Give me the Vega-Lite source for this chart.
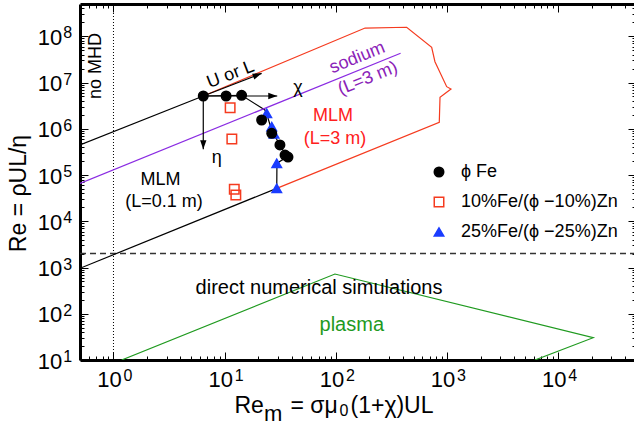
{
"$schema": "https://vega.github.io/schema/vega-lite/v6.json",
"width": 556, "height": 356,
"autosize": {"type": "none"},
"padding": {"left": 80, "top": 4, "right": 0, "bottom": 64},
"config": {
  "font": "Liberation Sans",
  "view": {"stroke": null},
  "axis": {"grid": false, "labelFont": "Liberation Sans", "titleFont": "Liberation Sans", "titleFontWeight": "normal", "titleColor": "black", "labelColor": "black", "tickColor": "black", "domainColor": "black", "domainWidth": 3, "tickWidth": 1, "labelFlush": false, "labelOverlap": false, "labelBound": false}
},
"resolve": {"axis": {"x": "independent", "y": "independent"}},
"layer": [
  {
    "data": {"values": [{"x": 1}]},
    "mark": {"type": "rule", "color": "black", "strokeWidth": 1, "strokeDash": [1, 2]},
    "encoding": {"x": {"field": "x", "type": "quantitative", "scale": {"type": "log", "domain": [0.5, 50000], "nice": false}, "axis": null}}
  },
  {
    "data": {"values": [{"y": 2000}]},
    "mark": {"type": "rule", "color": "#333333", "strokeWidth": 1.5, "strokeDash": [6, 4]},
    "encoding": {"y": {"field": "y", "type": "quantitative", "scale": {"type": "log", "domain": [10, 500000000], "nice": false}, "axis": null}}
  },
  {
    "data": {"values": [
      {"seg": "a", "i": 0, "x": 0.5, "y": 447000}, {"seg": "a", "i": 1, "x": 6.42, "y": 5120000},
      {"seg": "b", "i": 0, "x": 0.5, "y": 961}, {"seg": "b", "i": 1, "x": 29.4, "y": 51600},
      {"seg": "c", "i": 0, "x": 6.42, "y": 5120000}, {"seg": "c", "i": 1, "x": 14.2, "y": 5300000},
      {"seg": "c", "i": 2, "x": 23.0, "y": 2550000}, {"seg": "c", "i": 3, "x": 24.5, "y": 1710000},
      {"seg": "c", "i": 4, "x": 26.1, "y": 1040000}, {"seg": "c", "i": 5, "x": 28.9, "y": 632000},
      {"seg": "c", "i": 6, "x": 33.4, "y": 347000}, {"seg": "c", "i": 7, "x": 36.3, "y": 245000},
      {"seg": "c", "i": 8, "x": 30.8, "y": 191000}, {"seg": "c", "i": 9, "x": 29.5, "y": 157000},
      {"seg": "c", "i": 10, "x": 29.4, "y": 51600}
    ]},
    "mark": {"type": "line", "color": "black", "strokeWidth": 1.2, "clip": true},
    "encoding": {
      "x": {"field": "x", "type": "quantitative", "scale": {"type": "log", "domain": [0.5, 50000], "nice": false},
        "axis": {"orient": "bottom", "values": [1, 10, 100, 1000, 10000], "labelExpr": "'10'", "labelFontSize": 22, "labelBaseline": "alphabetic", "labelAlign": "center", "labelPadding": 26.5, "labelOffset": -4.5, "ticks": false, "domain": false,
          "title": "Re", "titleFontSize": 23, "titleX": 154, "titleY": 52, "titleAlign": "left", "titleBaseline": "alphabetic", "titleAngle": 0}},
      "y": {"field": "y", "type": "quantitative", "scale": {"type": "log", "domain": [10, 500000000], "nice": false},
        "axis": {"orient": "left", "values": [10, 100, 1000, 10000, 100000, 1000000, 10000000, 100000000], "labelExpr": "'10'", "labelFontSize": 22, "labelAlign": "right", "labelBaseline": "alphabetic", "labelPadding": 18.3, "labelOffset": 8, "ticks": false, "domain": false,
          "title": "Re = ρUL/η", "titleFontSize": 23, "titleX": -62, "titleY": 189, "titleAlign": "center", "titleBaseline": "middle", "titleAngle": 270}},
      "detail": {"field": "seg", "type": "nominal"},
      "order": {"field": "i", "type": "quantitative"}
    }
  },
  {
    "data": {"values": [
      {"i": 0, "x": 6.42, "y": 5120000}, {"i": 1, "x": 183, "y": 151000000}, {"i": 2, "x": 433, "y": 157000000},
      {"i": 3, "x": 727, "y": 57800000}, {"i": 4, "x": 778, "y": 28200000}, {"i": 5, "x": 992, "y": 8150000},
      {"i": 6, "x": 1084, "y": 7260000}, {"i": 7, "x": 864, "y": 4800000}, {"i": 8, "x": 851, "y": 1380000},
      {"i": 9, "x": 29.4, "y": 51600}
    ]},
    "mark": {"type": "line", "color": "#f53b1f", "strokeWidth": 1.2, "clip": true},
    "encoding": {
      "x": {"field": "x", "type": "quantitative", "scale": {"type": "log", "domain": [0.5, 50000], "nice": false},
        "axis": {"orient": "bottom", "values": [1, 10, 100, 1000, 10000], "labelExpr": "'' + round(log(datum.value)/LN10)", "labelFontSize": 16, "labelBaseline": "alphabetic", "labelAlign": "center", "labelPadding": 20.5, "labelOffset": 14, "ticks": false, "domain": false,
          "title": "m", "titleFontSize": 22, "titleX": 183.5, "titleY": 60, "titleAlign": "left", "titleBaseline": "alphabetic", "titleAngle": 0}},
      "y": {"field": "y", "type": "quantitative", "scale": {"type": "log", "domain": [10, 500000000], "nice": false},
        "axis": {"orient": "left", "values": [10, 100, 1000, 10000, 100000, 1000000, 10000000, 100000000], "labelExpr": "'' + round(log(datum.value)/LN10)", "labelFontSize": 16, "labelAlign": "right", "labelBaseline": "alphabetic", "labelPadding": 8.3, "labelOffset": 1.5, "ticks": false, "domain": false, "title": null}},
      "order": {"field": "i", "type": "quantitative"}
    }
  },
  {
    "data": {"values": [{"x": 0.5, "y": 66200}, {"x": 382, "y": 43000000}]},
    "mark": {"type": "line", "color": "#8a2be2", "strokeWidth": 1.2, "clip": true},
    "encoding": {
      "x": {"field": "x", "type": "quantitative", "scale": {"type": "log", "domain": [0.5, 50000], "nice": false},
        "axis": {"orient": "bottom", "values": [0.6, 0.7, 0.8, 0.9, 1, 2, 3, 4, 5, 6, 7, 8, 9, 10, 20, 30, 40, 50, 60, 70, 80, 90, 100, 200, 300, 400, 500, 600, 700, 800, 900, 1000, 2000, 3000, 4000, 5000, 6000, 7000, 8000, 9000, 10000, 20000, 30000, 40000], "labels": false, "ticks": true, "tickSize": -4, "domain": true,
          "title": "= σμ", "titleFontSize": 23, "titleX": 210, "titleY": 52, "titleAlign": "left", "titleBaseline": "alphabetic", "titleAngle": 0}},
      "y": {"field": "y", "type": "quantitative", "scale": {"type": "log", "domain": [10, 500000000], "nice": false},
        "axis": {"orient": "left", "values": [20, 30, 40, 50, 60, 70, 80, 90, 100, 200, 300, 400, 500, 600, 700, 800, 900, 1000, 2000, 3000, 4000, 5000, 6000, 7000, 8000, 9000, 10000, 20000, 30000, 40000, 50000, 60000, 70000, 80000, 90000, 100000, 200000, 300000, 400000, 500000, 600000, 700000, 800000, 900000, 1000000, 2000000, 3000000, 4000000, 5000000, 6000000, 7000000, 8000000, 9000000, 10000000, 20000000, 30000000, 40000000, 50000000, 60000000, 70000000, 80000000, 90000000, 100000000, 200000000, 300000000, 400000000], "labels": false, "ticks": true, "tickSize": -4, "domain": true, "title": null}}
    }
  },
  {
    "data": {"values": [{"i": 0, "x": 1.185, "y": 10}, {"i": 1, "x": 98.1, "y": 724}, {"i": 2, "x": 20600, "y": 30.3}, {"i": 3, "x": 6170, "y": 10}]},
    "mark": {"type": "line", "color": "#1f9a1f", "strokeWidth": 1.2, "clip": true},
    "encoding": {
      "x": {"field": "x", "type": "quantitative", "scale": {"type": "log", "domain": [0.5, 50000], "nice": false},
        "axis": {"orient": "bottom", "values": [1, 10, 100, 1000, 10000], "labels": false, "ticks": true, "tickSize": -8, "domain": false,
          "title": "0", "titleFontSize": 16, "titleX": 259, "titleY": 55, "titleAlign": "left", "titleBaseline": "alphabetic", "titleAngle": 0}},
      "y": {"field": "y", "type": "quantitative", "scale": {"type": "log", "domain": [10, 500000000], "nice": false},
        "axis": {"orient": "left", "values": [10, 100, 1000, 10000, 100000, 1000000, 10000000, 100000000], "labels": false, "ticks": true, "tickSize": -8, "domain": false, "title": null}},
      "order": {"field": "i", "type": "quantitative"}
    }
  },
  {
    "data": {"values": [
      {"x": 6.42, "y": 5120000, "x2": 29.7, "y2": 5120000},
      {"x": 6.42, "y": 5120000, "x2": 6.42, "y2": 360000},
      {"x": 6.42, "y": 5120000, "x2": 21.5, "y2": 15800000}
    ]},
    "mark": {"type": "rule", "color": "black", "strokeWidth": 1.2},
    "encoding": {
      "x": {"field": "x", "type": "quantitative", "scale": {"type": "log", "domain": [0.5, 50000], "nice": false},
        "axis": {"orient": "top", "values": [0.6, 0.7, 0.8, 0.9, 1, 2, 3, 4, 5, 6, 7, 8, 9, 10, 20, 30, 40, 50, 60, 70, 80, 90, 100, 200, 300, 400, 500, 600, 700, 800, 900, 1000, 2000, 3000, 4000, 5000, 6000, 7000, 8000, 9000, 10000, 20000, 30000, 40000], "labels": false, "ticks": true, "tickSize": -4, "domain": true,
          "title": "(1+χ)UL", "titleFontSize": 23, "titleX": 270, "titleY": 408, "titleAlign": "left", "titleBaseline": "alphabetic", "titleAngle": 0}},
      "y": {"field": "y", "type": "quantitative", "scale": {"type": "log", "domain": [10, 500000000], "nice": false},
        "axis": {"orient": "right", "values": [20, 30, 40, 50, 60, 70, 80, 90, 100, 200, 300, 400, 500, 600, 700, 800, 900, 1000, 2000, 3000, 4000, 5000, 6000, 7000, 8000, 9000, 10000, 20000, 30000, 40000, 50000, 60000, 70000, 80000, 90000, 100000, 200000, 300000, 400000, 500000, 600000, 700000, 800000, 900000, 1000000, 2000000, 3000000, 4000000, 5000000, 6000000, 7000000, 8000000, 9000000, 10000000, 20000000, 30000000, 40000000, 50000000, 60000000, 70000000, 80000000, 90000000, 100000000, 200000000, 300000000, 400000000], "labels": false, "ticks": true, "tickSize": -4, "domain": true, "title": null}},
      "x2": {"field": "x2"},
      "y2": {"field": "y2"}
    }
  },
  {
    "data": {"values": [{"x": 29.7, "y": 5120000}]},
    "mark": {"type": "point", "shape": "M0,0L-2,-0.7L-2,0.7Z", "filled": true, "color": "black", "opacity": 1, "size": 81, "angle": 0},
    "encoding": {
      "x": {"field": "x", "type": "quantitative", "scale": {"type": "log", "domain": [0.5, 50000], "nice": false},
        "axis": {"orient": "top", "values": [1, 10, 100, 1000, 10000], "labels": false, "ticks": true, "tickSize": -8, "domain": false, "title": null}},
      "y": {"field": "y", "type": "quantitative", "scale": {"type": "log", "domain": [10, 500000000], "nice": false},
        "axis": {"orient": "right", "values": [10, 100, 1000, 10000, 100000, 1000000, 10000000, 100000000], "labels": false, "ticks": true, "tickSize": -8, "domain": false, "title": null}}
    }
  },
  {
    "data": {"values": [{"x": 6.42, "y": 360000}]},
    "mark": {"type": "point", "shape": "M0,0L-2,-0.7L-2,0.7Z", "filled": true, "color": "black", "opacity": 1, "size": 81, "angle": 90},
    "encoding": {
      "x": {"field": "x", "type": "quantitative", "scale": {"type": "log", "domain": [0.5, 50000], "nice": false}, "axis": null},
      "y": {"field": "y", "type": "quantitative", "scale": {"type": "log", "domain": [10, 500000000], "nice": false}, "axis": null}
    }
  },
  {
    "data": {"values": [{"x": 21.5, "y": 15800000}]},
    "mark": {"type": "point", "shape": "M0,0L-2,-0.7L-2,0.7Z", "filled": true, "color": "black", "opacity": 1, "size": 81, "angle": 339},
    "encoding": {
      "x": {"field": "x", "type": "quantitative", "scale": {"type": "log", "domain": [0.5, 50000], "nice": false}, "axis": null},
      "y": {"field": "y", "type": "quantitative", "scale": {"type": "log", "domain": [10, 500000000], "nice": false}, "axis": null}
    }
  },
  {
    "data": {"values": [
      {"series": "25%Fe/(ϕ −25%)Zn", "x": 23.9, "y": 2160000},
      {"series": "25%Fe/(ϕ −25%)Zn", "x": 26.5, "y": 1110000},
      {"series": "25%Fe/(ϕ −25%)Zn", "x": 27.8, "y": 773000},
      {"series": "25%Fe/(ϕ −25%)Zn", "x": 29.4, "y": 179000},
      {"series": "25%Fe/(ϕ −25%)Zn", "x": 29.4, "y": 51600},
      {"series": "ϕ Fe", "x": 6.42, "y": 5120000},
      {"series": "ϕ Fe", "x": 10.3, "y": 5120000},
      {"series": "ϕ Fe", "x": 14.2, "y": 5300000},
      {"series": "ϕ Fe", "x": 21.5, "y": 1550000},
      {"series": "ϕ Fe", "x": 26.5, "y": 800000},
      {"series": "ϕ Fe", "x": 31.4, "y": 447000},
      {"series": "ϕ Fe", "x": 34.9, "y": 271000},
      {"series": "ϕ Fe", "x": 37.1, "y": 245000},
      {"series": "10%Fe/(ϕ −10%)Zn", "x": 11.2, "y": 2860000},
      {"series": "10%Fe/(ϕ −10%)Zn", "x": 11.6, "y": 601000},
      {"series": "10%Fe/(ϕ −10%)Zn", "x": 12.2, "y": 49200},
      {"series": "10%Fe/(ϕ −10%)Zn", "x": 12.6, "y": 37000}
    ]},
    "mark": {"type": "point", "opacity": 1, "size": 90, "strokeWidth": 1.5},
    "encoding": {
      "x": {"field": "x", "type": "quantitative", "scale": {"type": "log", "domain": [0.5, 50000], "nice": false}, "axis": null},
      "y": {"field": "y", "type": "quantitative", "scale": {"type": "log", "domain": [10, 500000000], "nice": false}, "axis": null},
      "fill": {"field": "series", "type": "nominal",
        "scale": {"domain": ["ϕ Fe", "10%Fe/(ϕ −10%)Zn", "25%Fe/(ϕ −25%)Zn"], "range": ["black", "transparent", "#1a3cff"]},
        "legend": {"orient": "none", "legendX": 350, "legendY": 159, "title": null, "labelFontSize": 18, "labelFont": "Liberation Sans", "labelColor": "black", "symbolSize": 90, "symbolStrokeWidth": 1.5, "rowPadding": 12, "labelOffset": 13, "padding": 0, "symbolOpacity": 1}},
      "stroke": {"field": "series", "type": "nominal",
        "scale": {"domain": ["ϕ Fe", "10%Fe/(ϕ −10%)Zn", "25%Fe/(ϕ −25%)Zn"], "range": ["black", "#f53b1f", "#1a3cff"]},
        "legend": {"orient": "none", "legendX": 350, "legendY": 159, "title": null, "labelFontSize": 18, "labelFont": "Liberation Sans", "labelColor": "black", "symbolSize": 90, "symbolStrokeWidth": 1.5, "rowPadding": 12, "labelOffset": 13, "padding": 0, "symbolOpacity": 1}},
      "shape": {"field": "series", "type": "nominal",
        "scale": {"domain": ["ϕ Fe", "10%Fe/(ϕ −10%)Zn", "25%Fe/(ϕ −25%)Zn"], "range": ["circle", "square", "triangle-up"]},
        "legend": {"orient": "none", "legendX": 350, "legendY": 159, "title": null, "labelFontSize": 18, "labelFont": "Liberation Sans", "labelColor": "black", "symbolSize": 90, "symbolStrokeWidth": 1.5, "rowPadding": 12, "labelOffset": 13, "padding": 0, "symbolOpacity": 1}}
    }
  },
  {
    "data": {"values": [
      {"x": 2.65, "y": 78200, "t": "MLM"},
      {"x": 2.85, "y": 26100, "t": "(L=0.1 m)"},
      {"x": 8.47, "y": 239000, "t": "η"},
      {"x": 45.6, "y": 7620000, "t": "χ"}
    ]},
    "mark": {"type": "text", "fontSize": 18, "color": "black", "align": "center", "baseline": "middle"},
    "encoding": {
      "x": {"field": "x", "type": "quantitative", "scale": {"type": "log", "domain": [0.5, 50000], "nice": false}, "axis": null},
      "y": {"field": "y", "type": "quantitative", "scale": {"type": "log", "domain": [10, 500000000], "nice": false}, "axis": null},
      "text": {"field": "t"}
    }
  },
  {
    "data": {"values": [{"x": 0.703, "y": 22800000, "t": "no MHD"}]},
    "mark": {"type": "text", "fontSize": 18, "color": "black", "align": "center", "baseline": "middle", "angle": 270},
    "encoding": {
      "x": {"field": "x", "type": "quantitative", "scale": {"type": "log", "domain": [0.5, 50000], "nice": false}, "axis": null},
      "y": {"field": "y", "type": "quantitative", "scale": {"type": "log", "domain": [10, 500000000], "nice": false}, "axis": null},
      "text": {"field": "t"}
    }
  },
  {
    "data": {"values": [{"x": 11.3, "y": 14800000, "t": "U or L"}]},
    "mark": {"type": "text", "fontSize": 18, "color": "black", "align": "center", "baseline": "middle", "angle": 339},
    "encoding": {
      "x": {"field": "x", "type": "quantitative", "scale": {"type": "log", "domain": [0.5, 50000], "nice": false}, "axis": null},
      "y": {"field": "y", "type": "quantitative", "scale": {"type": "log", "domain": [10, 500000000], "nice": false}, "axis": null},
      "text": {"field": "t"}
    }
  },
  {
    "data": {"values": [{"x": 94.2, "y": 1850000, "t": "MLM"}, {"x": 98.2, "y": 587000, "t": "(L=3 m)"}]},
    "mark": {"type": "text", "fontSize": 18, "color": "#ff2020", "align": "center", "baseline": "middle"},
    "encoding": {
      "x": {"field": "x", "type": "quantitative", "scale": {"type": "log", "domain": [0.5, 50000], "nice": false}, "axis": null},
      "y": {"field": "y", "type": "quantitative", "scale": {"type": "log", "domain": [10, 500000000], "nice": false}, "axis": null},
      "text": {"field": "t"}
    }
  },
  {
    "data": {"values": [{"x": 156, "y": 34000000, "t": "sodium"}, {"x": 194, "y": 12200000, "t": "(L=3 m)"}]},
    "mark": {"type": "text", "fontSize": 18, "color": "#8a22b8", "align": "center", "baseline": "middle", "angle": 338},
    "encoding": {
      "x": {"field": "x", "type": "quantitative", "scale": {"type": "log", "domain": [0.5, 50000], "nice": false}, "axis": null},
      "y": {"field": "y", "type": "quantitative", "scale": {"type": "log", "domain": [10, 500000000], "nice": false}, "axis": null},
      "text": {"field": "t"}
    }
  },
  {
    "data": {"values": [{"x": 70.5, "y": 361, "t": "direct numerical simulations"}]},
    "mark": {"type": "text", "fontSize": 20, "color": "black", "align": "center", "baseline": "middle"},
    "encoding": {
      "x": {"field": "x", "type": "quantitative", "scale": {"type": "log", "domain": [0.5, 50000], "nice": false}, "axis": null},
      "y": {"field": "y", "type": "quantitative", "scale": {"type": "log", "domain": [10, 500000000], "nice": false}, "axis": null},
      "text": {"field": "t"}
    }
  },
  {
    "data": {"values": [{"x": 139, "y": 57.1, "t": "plasma"}]},
    "mark": {"type": "text", "fontSize": 20, "color": "#1f9a1f", "align": "center", "baseline": "middle"},
    "encoding": {
      "x": {"field": "x", "type": "quantitative", "scale": {"type": "log", "domain": [0.5, 50000], "nice": false}, "axis": null},
      "y": {"field": "y", "type": "quantitative", "scale": {"type": "log", "domain": [10, 500000000], "nice": false}, "axis": null},
      "text": {"field": "t"}
    }
  }
]
}
